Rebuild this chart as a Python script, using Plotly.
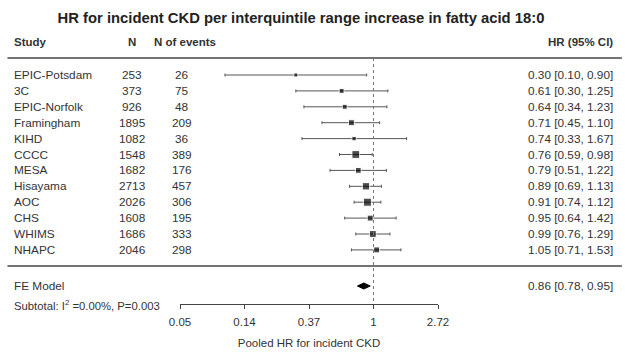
import numpy as np
import plotly.graph_objects as go

# datos
estudios = ["EPIC-Potsdam", "3C", "EPIC-Norfolk", "Framingham", "KIHD", "CCCC",
            "MESA", "Hisayama", "AOC", "CHS", "WHIMS", "NHAPC"]
n = [253, 373, 926, 1895, 1082, 1548, 1682, 2713, 2026, 1608, 1686, 2046]
n_eventos = [26, 75, 48, 209, 36, 389, 176, 457, 306, 195, 333, 298]
hr = [0.30, 0.61, 0.64, 0.71, 0.74, 0.76, 0.79, 0.89, 0.91, 0.95, 0.99, 1.05]
ic_inf = [0.10, 0.30, 0.34, 0.45, 0.33, 0.59, 0.51, 0.69, 0.74, 0.64, 0.76, 0.71]
ic_sup = [0.90, 1.25, 1.23, 1.10, 1.67, 0.98, 1.22, 1.13, 1.12, 1.42, 1.29, 1.53]
peso = [1.0, 2.5, 2.5, 5.0, 1.5, 12.0, 4.5, 10.0, 13.0, 5.0, 8.0, 5.0]  # % aprox

fe_hr, fe_inf, fe_sup = 0.86, 0.78, 0.95
ticks_ln = [-3, -2, -1, 0, 1]
tick_txt = ["0.05", "0.14", "0.37", "1", "2.72"]

W, H = 625, 353
fila0, paso = 75, 15.9
filas = [fila0 + paso * i for i in range(len(estudios))]
y_fe = 286
gris = "#333333"
fuente = "Liberation Sans, Arial, sans-serif"

hr = np.array(hr)
ic_inf = np.array(ic_inf)
ic_sup = np.array(ic_sup)
tam = 2.5 + 5.5 * np.sqrt(np.array(peso) / max(peso))

fig = go.Figure()
fig.add_trace(go.Scatter(
    x=hr, y=filas, mode="markers",
    marker=dict(symbol="square", size=tam, color="black"),
    error_x=dict(type="data", symmetric=False, array=ic_sup - hr,
                 arrayminus=hr - ic_inf, thickness=1, width=1.5, color="#555555"),
    showlegend=False, hoverinfo="skip"))

# diamante del modelo FE
h = 3
fig.add_trace(go.Scatter(
    x=[fe_inf, fe_hr, fe_sup, fe_hr, fe_inf],
    y=[y_fe, y_fe - h, y_fe, y_fe + h, y_fe],
    fill="toself", fillcolor="black", mode="lines",
    line=dict(color="black", width=1), showlegend=False, hoverinfo="skip"))

def txt(x_px, y, s, anchor="left", bold=False, size=11.8):
    if bold:
        s = "<b>" + s + "</b>"
    fig.add_annotation(x=x_px / W, y=y, xref="paper", yref="y", text=s,
                       showarrow=False, xanchor=anchor, yanchor="middle",
                       font=dict(family=fuente, size=size, color=gris))

txt(12, 42, "Study", bold=True, size=11.5)
txt(132, 42, "N", "center", bold=True, size=11.5)
txt(185, 42, "N of events", "center", bold=True, size=11.5)
txt(615, 42, "HR (95% CI)", "right", bold=True, size=11.5)

for i, y in enumerate(filas):
    txt(12, y, estudios[i])
    txt(132, y, str(n[i]), "center")
    txt(182, y, str(n_eventos[i]), "center")
    txt(615, y, f"{hr[i]:.2f} [{ic_inf[i]:.2f}, {ic_sup[i]:.2f}]", "right")

txt(12, y_fe, "FE Model")
txt(615, y_fe, f"{fe_hr:.2f} [{fe_inf:.2f}, {fe_sup:.2f}]", "right")
txt(12, 305, "Subtotal: I<sup>2</sup> =0.00%, P=0.003", size=11.3)

# lineas horizontales y linea de referencia
for yy in [58, 266]:
    fig.add_shape(type="line", xref="paper", yref="y", x0=0.012, x1=0.995,
                  y0=yy, y1=yy, line=dict(color="#444444", width=1.5))
fig.add_shape(type="line", xref="x", yref="y", x0=1, x1=1, y0=58, y1=304,
              line=dict(color="#777777", width=1, dash="dot"))

fig.update_layout(
    width=W, height=H, margin=dict(l=0, r=0, t=0, b=0, autoexpand=False),
    paper_bgcolor="white", plot_bgcolor="white",
    title=dict(text="<b>HR for incident CKD per interquintile range increase in fatty acid 18:0</b>",
               x=301 / W, xanchor="center", y=1 - 18 / H, yanchor="middle",
               font=dict(family=fuente, size=14.8, color="#222222")),
    xaxis=dict(type="log", domain=[180 / W, 438 / W], automargin=False,
               range=[np.log10(np.exp(-3)), np.log10(np.exp(1))],
               anchor="free", position=1 - 304 / H,
               tickvals=np.exp(ticks_ln), ticktext=tick_txt,
               showline=True, linecolor="#444444", linewidth=1,
               ticks="outside", ticklen=4, tickcolor="#444444",
               ticklabelstandoff=3,
               showgrid=False, zeroline=False,
               tickfont=dict(family=fuente, size=11.5, color=gris),
               title=dict(text="Pooled HR for incident CKD", standoff=12,
                          font=dict(family=fuente, size=11.5, color=gris))),
    yaxis=dict(range=[H, 0], domain=[0, 1], visible=False, automargin=False),
)

fig.write_html("out.html", config={"displayModeBar": False},
               post_script="document.body.style.margin='0';")
